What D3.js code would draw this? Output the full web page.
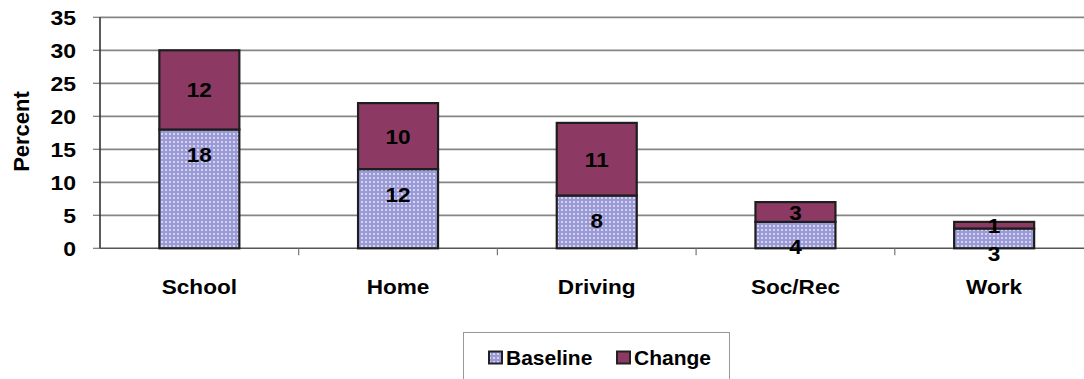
<!DOCTYPE html>
<html>
<head>
<meta charset="utf-8">
<script src="https://cdn.jsdelivr.net/npm/d3@7/dist/d3.min.js"></script>
<style>
  html, body { margin: 0; padding: 0; background: #fff; }
  svg { display: block; }
  text { font-family: "Liberation Sans", Arial, sans-serif; font-weight: bold; fill: #000; }
</style>
</head>
<body>
<script>
// Stacked bars: baseline share plus change, by setting
const categories = ["School", "Home", "Driving", "Soc/Rec", "Work"];
const baseline   = [18, 12, 8, 4, 3];
const change     = [12, 10, 11, 3, 1];
const yTicks     = [0, 5, 10, 15, 20, 25, 30, 35];
const seriesNames = ["Baseline", "Change"];

const W = 1084, H = 379;
const svg = d3.select("body").append("svg").attr("width", W).attr("height", H);

const x = d3.scaleBand().domain(categories).range([100, 1093.5]).padding(0);
const y = d3.scaleLinear().domain([0, 35]).range([248.3, 17.3]);
const barW = 80;

const changeColor = "#8c3a63";

// dotted lavender fill for the baseline series
const defs = svg.append("defs");
const pat = defs.append("pattern").attr("id", "dots")
  .attr("patternUnits", "userSpaceOnUse").attr("width", 4).attr("height", 4);
pat.append("rect").attr("width", 4).attr("height", 4).attr("fill", "#9a9ad6");
pat.append("rect").attr("x", 1).attr("y", 1).attr("width", 2).attr("height", 2).attr("fill", "#d4d4f0");

// stretched text helper
function label(g, tx, ty, str, size, sx, anchor) {
  return g.append("text")
    .attr("transform", `translate(${tx},${ty}) scale(${sx},1)`)
    .attr("text-anchor", anchor || "middle")
    .attr("dominant-baseline", "central")
    .style("font-size", size + "px")
    .text(str);
}

// gridlines
svg.append("g").selectAll("line").data(yTicks.filter(d => d > 0)).join("line")
  .attr("x1", 100).attr("x2", W)
  .attr("y1", d => y(d)).attr("y2", d => y(d))
  .attr("stroke", "#858585").attr("stroke-width", 1.7);

// y axis
const yAxis = svg.append("g");
yAxis.selectAll("line.tk").data(yTicks).join("line").attr("class", "tk")
  .attr("x1", 93).attr("x2", 100).attr("y1", d => y(d)).attr("y2", d => y(d))
  .attr("stroke", "#777").attr("stroke-width", 1.2);
yAxis.append("line").attr("x1", 100).attr("x2", 100).attr("y1", y(35)).attr("y2", y(0))
  .attr("stroke", "#333").attr("stroke-width", 1.6);
yTicks.forEach(t => label(yAxis, 76, y(t) + 0.5, t, 20, 1.15, "end"));

// y title
svg.append("text")
  .attr("transform", `translate(21,131.5) rotate(-90)`)
  .attr("text-anchor", "middle").attr("dominant-baseline", "central")
  .style("font-size", "22px").text("Percent");

// x axis
const xAxis = svg.append("g");
xAxis.append("line").attr("x1", 100).attr("x2", W).attr("y1", y(0)).attr("y2", y(0))
  .attr("stroke", "#555").attr("stroke-width", 1.6);
const bounds = categories.map(c => x(c)).concat([x.range()[1]]);
xAxis.selectAll("line.tk").data(bounds.slice(1)).join("line").attr("class", "tk")
  .attr("x1", d => d).attr("x2", d => d).attr("y1", y(0)).attr("y2", y(0) + 7)
  .attr("stroke", "#777").attr("stroke-width", 1.2);
categories.forEach(c => label(xAxis, x(c) + x.bandwidth() / 2, 287, c, 20, 1.13));

// bars
const bars = svg.append("g");
categories.forEach((c, i) => {
  const cx = x(c) + x.bandwidth() / 2;
  const b = baseline[i], ch = change[i];
  bars.append("rect")
    .attr("x", cx - barW / 2).attr("width", barW)
    .attr("y", y(b)).attr("height", y(0) - y(b))
    .attr("fill", "url(#dots)").attr("stroke", "#1e1e1e").attr("stroke-width", 2.2);
  bars.append("rect")
    .attr("x", cx - barW / 2).attr("width", barW)
    .attr("y", y(b + ch)).attr("height", y(b) - y(b + ch))
    .attr("fill", changeColor).attr("stroke", "#1e1e1e").attr("stroke-width", 2.2);
});

// value labels
const labels = svg.append("g");
categories.forEach((c, i) => {
  const cx = x(c) + x.bandwidth() / 2;
  const b = baseline[i], ch = change[i];
  label(labels, cx, y(b + ch / 2) + 1, ch, 20, 1.13);
  label(labels, cx, y(b) + 26, b, 20, 1.13);
});

// legend
const lg = svg.append("g");
lg.append("rect").attr("x", 463.5).attr("y", 332.5).attr("width", 266).attr("height", 60)
  .attr("fill", "#fff").attr("stroke", "#999").attr("stroke-width", 1);
const legendItems = [
  { name: seriesNames[0], fill: "url(#dots)", sx: 489, tx: 506 },
  { name: seriesNames[1], fill: changeColor, sx: 617, tx: 634 }
];
legendItems.forEach(d => {
  lg.append("rect").attr("x", d.sx).attr("y", 351.5).attr("width", 13).attr("height", 12)
    .attr("fill", d.fill).attr("stroke", "#222").attr("stroke-width", 2);
  lg.append("text")
    .attr("transform", `translate(${d.tx},365) scale(1.05,1)`)
    .style("font-size", "20px").text(d.name);
});
</script>
</body>
</html>
